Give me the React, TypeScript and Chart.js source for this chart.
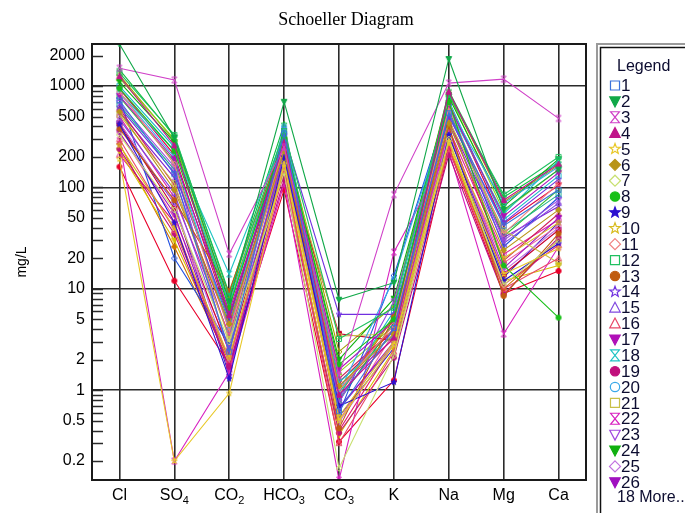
import { useEffect, useRef } from 'react';
import { Chart, registerables } from 'chart.js';

Chart.register(...registerables);

const chartTitle = 'Schoeller Diagram';
const yAxisTitle = 'mg/L';
const legendTitle = 'Legend';
const categories = ['Cl', 'SO4', 'CO2', 'HCO3', 'CO3', 'K', 'Na', 'Mg', 'Ca'];
const yTickLabels = [0.2, 0.5, 1, 2, 5, 10, 20, 50, 100, 200, 500, 1000, 2000];
const legendVisibleCount = 26;

// One row per sample: Cl, SO4, CO2, HCO3, CO3, K, Na, Mg, Ca (mg/L)
const sampleValues: number[][] = [
  [720, 135, 2.4, 340, 0.62, 4.1, 540, 42, 95],
  [2600, 310, 7.5, 700, 7.8, 11.5, 1850, 60, 150],
  [1500, 1150, 22, 250, 1.4, 85, 1070, 1170, 480],
  [1250, 260, 5.5, 280, 0.9, 3.3, 880, 75, 170],
  [190, 0.2, 0.93, 170, 0.5, 2.8, 280, 14, 25],
  [560, 95, 4.5, 230, 1.1, 3.6, 430, 24, 60],
  [330, 60, 3.0, 140, 0.17, 2.2, 300, 11, 30],
  [950, 230, 6.5, 310, 1.8, 5.0, 700, 17, 5.2],
  [420, 45, 1.3, 200, 0.7, 1.2, 330, 12, 28],
  [260, 40, 2.1, 190, 0.55, 3.0, 310, 20, 45],
  [880, 170, 3.8, 260, 1.0, 4.4, 610, 35, 110],
  [1350, 330, 8.5, 360, 3.2, 6.5, 820, 85, 200],
  [380, 75, 9.5, 300, 0.42, 5.3, 400, 8.5, 35],
  [620, 140, 5.0, 330, 5.6, 5.6, 500, 45, 120],
  [470, 88, 2.6, 210, 0.85, 3.9, 420, 28, 70],
  [300, 38, 2.0, 150, 0.3, 2.4, 240, 10, 20],
  [800, 190, 6.0, 270, 1.6, 4.8, 650, 52, 140],
  [860, 230, 14, 330, 1.2, 3.5, 600, 55, 185],
  [240, 35, 1.7, 120, 0.38, 2.1, 210, 8.8, 32],
  [850, 200, 4.0, 400, 0.95, 12.5, 620, 70, 160],
  [520, 110, 3.2, 240, 3.4, 3.6, 460, 38, 18],
  [290, 0.2, 1.5, 110, 0.13, 23, 230, 3.6, 26],
  [680, 160, 2.3, 320, 0.75, 7.5, 560, 30, 75],
  [1100, 280, 5.2, 290, 2.0, 8.0, 780, 65, 190],
  [440, 70, 1.9, 180, 0.48, 2.9, 350, 15, 40],
  [350, 55, 1.6, 230, 0.65, 3.0, 330, 16, 50],
  [160, 12, 1.8, 95, 0.31, 1.25, 240, 9, 15],
  [600, 105, 4.2, 260, 1.3, 4.0, 480, 19, 55],
  [1000, 250, 7.0, 340, 0.9, 6.0, 720, 48, 130],
  [760, 20, 2.8, 380, 0.58, 13.5, 650, 26, 80],
  [230, 30, 2.0, 160, 0.36, 2.5, 260, 12, 17],
  [1450, 320, 9.0, 420, 0.8, 4.6, 900, 80, 175],
  [500, 80, 3.5, 220, 1.1, 3.2, 380, 22, 48],
  [430, 62, 2.4, 200, 3.6, 3.1, 370, 14, 38],
  [270, 26, 1.9, 175, 0.9, 5.2, 290, 10, 30],
  [1200, 300, 6.8, 300, 1.5, 4.3, 830, 58, 150],
  [560, 125, 3.3, 250, 0.68, 2.8, 450, 32, 65],
  [350, 50, 2.6, 190, 0.5, 3.7, 320, 18, 42],
  [940, 210, 5.0, 280, 1.2, 3.9, 680, 44, 105],
  [650, 150, 4.6, 240, 0.78, 4.7, 530, 36, 85],
  [400, 70, 1.4, 270, 0.55, 2.6, 360, 13, 45],
  [1280, 290, 7.8, 310, 2.4, 6.8, 860, 72, 165],
  [210, 45, 1.6, 140, 0.4, 2.9, 250, 11, 27],
  [780, 180, 3.9, 260, 0.96, 5.4, 580, 33, 95],
];

const sampleColors = [
  '#3a72dc', '#10a848', '#d040c8', '#c0148a', '#e8c828', '#b89418', '#c8e070', '#18c018',
  '#2c10d0', '#d8bc20', '#f08080', '#20c060', '#c05c10', '#7030e0', '#8048e0', '#e84868',
  '#b010b8', '#20c4c4', '#c0107c', '#38a8e8', '#c8c048', '#d820c0', '#a048e0', '#10b010',
  '#c070e0', '#a010c0', '#e8002a', '#d0205a', '#18b8c8', '#2050e0', '#d8c000', '#10c040',
  '#e020a0', '#c80030', '#d07000', '#90d020', '#8020d0', '#f060a0', '#e00040', '#20b090',
  '#4020c0', '#a0a000', '#e01870', '#30c030',
];

// Marker shape and whether it is filled
const sampleMarkers: [string, boolean][] = [
  ['square', false], ['dtri', true], ['hourglass', false], ['tri', true], ['star', false],
  ['diamond', true], ['diamond', false], ['circle', true], ['star', true], ['star', false],
  ['diamond', false], ['square', false], ['circle', true], ['star', false], ['tri', false],
  ['tri', false], ['dtri', true], ['hourglass', false], ['circle', true], ['circle', false],
  ['square', false], ['hourglass', false], ['dtri', false], ['dtri', true], ['diamond', false],
  ['dtri', true], ['circle', true], ['tri', false], ['square', false], ['diamond', false],
  ['dtri', true], ['star', false], ['circle', false], ['square', true], ['diamond', true],
  ['tri', true], ['hourglass', false], ['circle', false], ['dtri', true], ['square', false],
  ['star', true], ['diamond', false], ['tri', false], ['circle', false],
];

const SANS = '"Liberation Sans", Arial, sans-serif';
const SERIF = '"Liberation Serif", "Times New Roman", serif';
const GRID = '#2a2a2a';

function tracePath(ctx: CanvasRenderingContext2D, shape: string, r: number) {
  ctx.beginPath();
  switch (shape) {
    case 'square':
      ctx.rect(-r * 0.82, -r * 0.82, r * 1.64, r * 1.64);
      break;
    case 'tri':
      ctx.moveTo(0, -r);
      ctx.lineTo(r * 0.95, r * 0.8);
      ctx.lineTo(-r * 0.95, r * 0.8);
      ctx.closePath();
      break;
    case 'dtri':
      ctx.moveTo(0, r);
      ctx.lineTo(r * 0.95, -r * 0.8);
      ctx.lineTo(-r * 0.95, -r * 0.8);
      ctx.closePath();
      break;
    case 'diamond':
      ctx.moveTo(0, -r);
      ctx.lineTo(r, 0);
      ctx.lineTo(0, r);
      ctx.lineTo(-r, 0);
      ctx.closePath();
      break;
    case 'hourglass':
      ctx.moveTo(-r * 0.8, -r);
      ctx.lineTo(r * 0.8, -r);
      ctx.lineTo(-r * 0.8, r);
      ctx.lineTo(r * 0.8, r);
      ctx.closePath();
      break;
    case 'star': {
      for (let k = 0; k < 10; k++) {
        const rad = k % 2 === 0 ? r : r * 0.42;
        const a = -Math.PI / 2 + (k * Math.PI) / 5;
        const px = Math.cos(a) * rad;
        const py = Math.sin(a) * rad;
        if (k === 0) ctx.moveTo(px, py);
        else ctx.lineTo(px, py);
      }
      ctx.closePath();
      break;
    }
    default:
      ctx.arc(0, 0, r * 0.85, 0, Math.PI * 2);
  }
}

function drawMarker(
  ctx: CanvasRenderingContext2D,
  shape: string,
  filled: boolean,
  color: string,
  x: number,
  y: number,
  r: number,
  lw: number
) {
  ctx.save();
  ctx.translate(x, y);
  tracePath(ctx, shape, r);
  ctx.lineWidth = lw;
  ctx.strokeStyle = color;
  ctx.fillStyle = color;
  if (filled) ctx.fill();
  ctx.stroke();
  ctx.restore();
}

function makeMarkerImage(shape: string, filled: boolean, color: string, r: number, lw: number) {
  const size = Math.ceil(2 * r + 2 * lw + 2);
  const c = document.createElement('canvas');
  c.width = size;
  c.height = size;
  const ctx = c.getContext('2d')!;
  drawMarker(ctx, shape, filled, color, size / 2, size / 2, r, lw);
  return c;
}

function sameValue(a: number, b: number) {
  return Math.abs(a - b) <= Math.abs(b) * 1e-6;
}

function drawLabelWithSubscript(ctx: CanvasRenderingContext2D, text: string, cx: number, baseline: number) {
  const m = text.match(/^(.*?)(\d*)$/)!;
  const main = m[1];
  const sub = m[2];
  ctx.font = `16px ${SANS}`;
  const wMain = ctx.measureText(main).width;
  ctx.font = `11px ${SANS}`;
  const wSub = sub ? ctx.measureText(sub).width : 0;
  const x0 = cx - (wMain + wSub) / 2;
  ctx.textAlign = 'left';
  ctx.textBaseline = 'alphabetic';
  ctx.font = `16px ${SANS}`;
  ctx.fillText(main, x0, baseline);
  if (sub) {
    ctx.font = `11px ${SANS}`;
    ctx.fillText(sub, x0 + wMain, baseline + 4);
  }
}

const decorations = {
  id: 'schoellerDecorations',
  afterDraw(chart: any) {
    const ctx: CanvasRenderingContext2D = chart.ctx;
    const area = chart.chartArea;
    const xScale = chart.scales.x;
    const yScale = chart.scales.y;
    ctx.save();

    // inner tick marks on the left edge of the plot
    ctx.strokeStyle = GRID;
    ctx.lineWidth = 1.5;
    yScale.ticks.forEach((t: any) => {
      const py = Math.round(yScale.getPixelForValue(t.value)) + 0.5;
      ctx.beginPath();
      ctx.moveTo(area.left, py);
      ctx.lineTo(area.left + 11, py);
      ctx.stroke();
    });

    // plot frame
    ctx.lineWidth = 2;
    ctx.strokeStyle = '#1a1a1a';
    ctx.strokeRect(area.left, area.top, area.right - area.left, area.bottom - area.top);

    // category labels
    ctx.fillStyle = '#000';
    categories.forEach((c, i) => {
      drawLabelWithSubscript(ctx, c, xScale.getPixelForValue(i), 500);
    });

    // chart title
    ctx.font = `18px ${SERIF}`;
    ctx.textAlign = 'center';
    ctx.textBaseline = 'middle';
    ctx.fillStyle = '#000';
    ctx.fillText(chartTitle, 346, 20);

    // y axis title
    ctx.save();
    ctx.translate(22, 262);
    ctx.rotate(-Math.PI / 2);
    ctx.font = `14px ${SANS}`;
    ctx.fillText(yAxisTitle, 0, 0);
    ctx.restore();

    // legend panel
    ctx.lineWidth = 2;
    ctx.strokeStyle = '#9a9a9a';
    ctx.strokeRect(597, 44, 120, 500);
    ctx.lineWidth = 1.5;
    ctx.strokeStyle = '#101010';
    ctx.strokeRect(600.5, 47.5, 120, 500);

    ctx.fillStyle = '#0c0c30';
    ctx.textAlign = 'left';
    ctx.textBaseline = 'middle';
    ctx.font = `16px ${SANS}`;
    ctx.fillText(legendTitle, 617, 67);
    for (let i = 0; i < Math.min(legendVisibleCount, sampleValues.length); i++) {
      const y = 85.5 + i * 15.87;
      const [shape, filled] = sampleMarkers[i];
      drawMarker(ctx, shape, filled, sampleColors[i], 615, y, 5.5, 1.2);
      ctx.fillStyle = '#0c0c30';
      ctx.font = `17px ${SANS}`;
      ctx.fillText(String(i + 1), 621, y + 1);
    }
    const more = sampleValues.length - legendVisibleCount;
    ctx.font = `16px ${SANS}`;
    if (more > 0) ctx.fillText(`${more} More...`, 617, 498);

    ctx.restore();
  },
};

export default function App() {
  const canvasRef = useRef<HTMLCanvasElement | null>(null);

  useEffect(() => {
    const canvas = canvasRef.current;
    if (!canvas) return;

    const all = sampleValues.flat();
    const yMin = Math.min(...all);
    const yMax = Math.max(...all);

    const tickValues: number[] = [];
    for (let e = -2; e <= 4; e++) {
      for (let k = 1; k <= 9; k++) {
        const v = Number((k * Math.pow(10, e)).toPrecision(6));
        if (v >= yMin && v <= yMax) tickValues.push(v);
      }
    }

    const datasets = sampleValues.map((vals, i) => {
      const [shape, filled] = sampleMarkers[i];
      return {
        label: String(i + 1),
        data: vals,
        borderColor: sampleColors[i],
        backgroundColor: sampleColors[i],
        borderWidth: 1.1,
        pointStyle: makeMarkerImage(shape, filled, sampleColors[i], 3, 1),
        pointRadius: 3,
        tension: 0,
      };
    });

    const chart = new Chart(canvas, {
      type: 'line',
      data: { labels: categories, datasets },
      options: {
        animation: false,
        responsive: true,
        maintainAspectRatio: false,
        layout: { padding: { top: 44, right: 99, left: 0, bottom: 0 } },
        plugins: {
          legend: { display: false },
          title: { display: false },
          tooltip: { enabled: false },
        },
        scales: {
          x: {
            type: 'category',
            offset: true,
            grid: { offset: false, color: GRID, lineWidth: 1.6, drawTicks: false },
            border: { display: false },
            ticks: { display: false },
            afterFit: (s: any) => {
              s.height = 33;
            },
          },
          y: {
            type: 'logarithmic',
            min: yMin,
            max: yMax,
            afterBuildTicks: (s: any) => {
              s.ticks = tickValues.map((v) => ({ value: v }));
            },
            grid: {
              drawTicks: false,
              lineWidth: 1.6,
              color: (c: any) => {
                const v = c.tick ? c.tick.value : 0;
                const lg = Math.log10(v);
                return Math.abs(lg - Math.round(lg)) < 1e-6 ? GRID : 'rgba(0,0,0,0)';
              },
            },
            border: { display: false },
            ticks: {
              autoSkip: false,
              padding: 7,
              color: '#000',
              font: { family: SANS, size: 16 },
              callback: (v: any) => {
                const lbl = yTickLabels.find((l) => sameValue(Number(v), l));
                return lbl === undefined ? '' : String(lbl);
              },
            },
            afterFit: (s: any) => {
              s.width = 92;
            },
          },
        },
      },
      plugins: [decorations],
    });

    return () => chart.destroy();
  }, []);

  return (
    <div style={{ position: 'fixed', left: 0, top: 0, width: 685, height: 513, background: '#fff' }}>
      <canvas ref={canvasRef} />
    </div>
  );
}
